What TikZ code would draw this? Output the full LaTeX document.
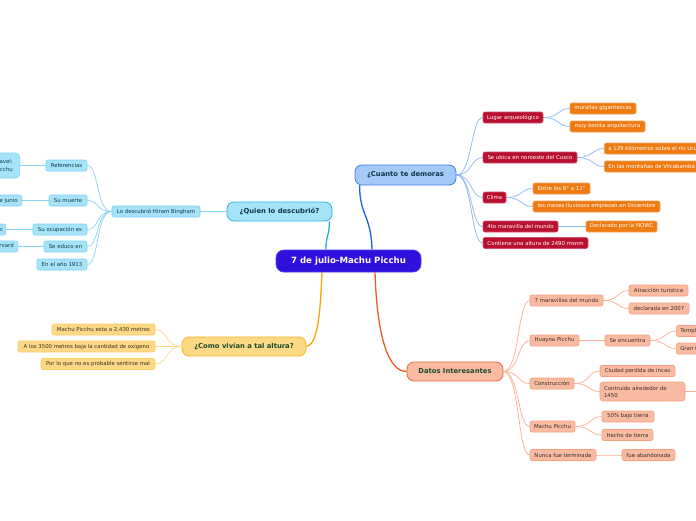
\documentclass[tikz,border=0pt]{standalone}
\usepackage{fontspec}
\setmainfont{DejaVu Sans}
\definecolor{cenF}{HTML}{3010DC}
\definecolor{cenD}{HTML}{5040F0}
\definecolor{cuF}{HTML}{A4CAF8}
\definecolor{cuD}{HTML}{3B7FE3}
\definecolor{quF}{HTML}{A6E3F9}
\definecolor{quD}{HTML}{2FB0EA}
\definecolor{coF}{HTML}{FDD985}
\definecolor{coD}{HTML}{F6B326}
\definecolor{daF}{HTML}{F8BBA2}
\definecolor{daD}{HTML}{EE6633}
\definecolor{topT}{HTML}{10384A}
\definecolor{topG}{HTML}{1C4A30}
\definecolor{rdF}{HTML}{B8102E}
\definecolor{rdD}{HTML}{D0506A}
\definecolor{orF}{HTML}{EE7A12}
\definecolor{orD}{HTML}{F5A050}
\definecolor{qcD}{HTML}{7FD3F4}
\definecolor{ccD}{HTML}{FBCB65}
\definecolor{dcD}{HTML}{F4A080}
\definecolor{txt}{HTML}{3A2E28}
\definecolor{lcu}{HTML}{1E5FD8}
\definecolor{lqu}{HTML}{25A8E6}
\definecolor{lco}{HTML}{F5A70A}
\definecolor{lda}{HTML}{EE5A26}
\definecolor{bcu}{HTML}{8CB6F2}
\definecolor{bqu}{HTML}{86D6F5}
\definecolor{bco}{HTML}{FDD98A}
\definecolor{bda}{HTML}{F9AE92}
\pgfdeclarelayer{bg}
\pgfsetlayers{bg,main}
\tikzset{
  box/.style={rounded corners=2pt, inner sep=0pt, inner xsep=3pt, minimum height=11pt, font=\fontsize{5.4}{6.4}\selectfont, line width=0.6pt},
  topic/.style={rounded corners=7pt, inner sep=0pt, minimum height=19pt, font=\fontsize{6.8}{8}\selectfont\bfseries, line width=0.8pt},
  cuc/.style={box, fill=rdF, draw=rdD, text=white},
  cug/.style={box, fill=orF, draw=orD, text=white},
  quc/.style={box, fill=quF, draw=qcD, text=topT},
  coc/.style={box, fill=coF, draw=ccD, text=txt},
  dac/.style={box, fill=daF, draw=dcD, text=txt},
  conn/.style={line width=0.7pt},
  mainconn/.style={line width=1.3pt}
}
\begin{document}
\begin{tikzpicture}[x=1pt,y=-1pt]
\useasboundingbox (0,0) rectangle (696,520);
\clip (0,0) rectangle (696,520);

% central
\node[rounded corners=8pt, fill=cenF, draw=cenD, line width=0.8pt, text=white, minimum width=145pt, minimum height=22pt, inner sep=0pt, font=\fontsize{8.6}{10}\selectfont\bfseries] (c) at (348.5,261) {7 de julio-Machu Picchu};

% topics
\node[topic, fill=cuF, draw=cuD, text=topT, minimum width=101pt, minimum height=20pt] (cu) at (405.5,175) {¿Cuanto te demoras};
\node[topic, fill=quF, draw=quD, text=topT, minimum width=105pt] (qu) at (279.5,211.5) {¿Quien lo descubrió?};
\node[topic, fill=coF, draw=coD, text=topG, minimum width=124pt] (co) at (244,346.5) {¿Como vivían a tal altura?};
\node[topic, fill=daF, draw=daD, text=topG, minimum width=96pt] (da) at (455,371.5) {Datos Interesantes};

% Cuanto branch
\node[cuc, minimum width=60pt] (c1) at (513,117.5) {Lugar arqueológico};
\node[cuc, minimum width=94pt] (c2) at (530,157.5) {Se ubica en noroeste del Cusco};
\node[cuc, minimum width=23pt] (c3) at (494.5,197.5) {Clima};
\node[cuc, minimum width=75pt] (c4) at (520.5,226.5) {4to maravilla del mundo};
\node[cuc, minimum width=105pt] (c5) at (535.5,243) {Contiene una altura de 2490 msnm};
\node[cug, minimum width=66pt] (c11) at (603,108.5) {murallas gigantescas};
\node[cug, minimum width=75pt] (c12) at (607.5,126.5) {muy bonita arquitectura};
\node[cug, anchor=west, inner xsep=4pt] (c21) at (604,148.5) {a 129 kilómetros sobre el río Urubamba};
\node[cug, anchor=west, inner xsep=4pt] (c22) at (604,166.5) {En las montañas de Vilcabamba};
\node[cug, minimum width=57pt] (c31) at (561.5,188.5) {Entre los 8° a 12°};
\node[cug, minimum width=127pt] (c32) at (596.5,206.5) {los meses lluviosos empiezan en Diciembre};
\node[cug, minimum width=71pt] (c41) at (621.5,226.5) {Declarado por la NOWC};

% Quien branch
\node[quc, minimum width=88pt] (q1) at (156,211.5) {Lo descubrió Hiram Bingham};
\node[quc, minimum width=41pt] (q11) at (66.5,165.5) {Referencias};
\node[quc, minimum width=38pt] (q12) at (68,200.5) {Su muerte};
\node[quc, minimum width=54pt] (q13) at (60,229.5) {Su ocupación es};
\node[quc, minimum width=43pt] (q14) at (65.5,246.5) {Se educo en};
\node[quc, minimum width=50pt] (q15) at (62,264.5) {En el año 1913};
\node[quc, anchor=east, minimum height=25pt, align=right, rounded corners=4pt, inner xsep=7pt] (q111) at (20,165.5) {Nat Geo Travel:\\[1pt]Machu Picchu};
\node[quc, anchor=east, inner xsep=4pt] (q121) at (22,200.5) {Murió el 6 de junio};
\node[quc, anchor=east, inner xsep=2.5pt] (q131) at (6,229.5) {Explorador y académic};
\node[quc, anchor=east, inner xsep=4pt] (q141) at (18,246.5) {Yale y Harvard};

% Como branch
\node[coc, minimum width=103pt] (o1) at (103.5,329.5) {Machu Picchu esta a 2,430 metros};
\node[coc, minimum width=137pt] (o2) at (86.5,346.5) {A los 3500 metros baja la cantidad de oxígeno};
\node[coc, minimum width=114pt] (o3) at (98,364) {Por lo que no es probable sentirse mal};

% Datos branch
\node[dac, minimum width=73pt] (d1) at (566.5,300.5) {7 maravillas del mundo};
\node[dac, minimum width=59pt] (d11) at (658.5,290.5) {Atracción turística};
\node[dac, minimum width=60pt] (d12) at (659,308.5) {declarada en 2007};
\node[dac, minimum width=49pt] (d2) at (554.5,340.5) {Huayna Picchu};
\node[dac, minimum width=45pt] (d21) at (627.5,340.5) {Se encuentra};
\node[dac, anchor=west, inner xsep=4pt] (d211) at (676,331) {Templo de la Luna};
\node[dac, anchor=west, inner xsep=4pt] (d212) at (676,348.5) {Gran Caverna};
\node[dac, minimum width=44pt] (d3) at (552,383.5) {Construcción};
\node[dac, minimum width=75pt] (d31) at (637.5,371) {Ciudad perdida de incas};
\node[dac, text width=77pt, inner xsep=4pt, align=left, minimum height=19pt, rounded corners=3pt, font=\fontsize{5.4}{7}\selectfont] (d32) at (642.5,391.5) {Contruido alrededor de\\1450};
\node[dac, minimum width=45pt] (d4) at (552.5,426.5) {Machu Picchu};
\node[dac, minimum width=52pt] (d41) at (628,416.5) {50\% bajo tierra};
\node[dac, minimum width=51pt] (d42) at (627.5,435) {Hecho de tierra};
\node[dac, minimum width=66pt] (d5) at (563,455) {Nunca fue terminada};
\node[dac, minimum width=53pt] (d51) at (648.5,455) {fue abandonada};
\coordinate (d321) at (712,391.5);

\begin{pgfonlayer}{bg}
\clip (0,0) rectangle (696,520);
\fill[white] (0,0) rectangle (696,520);
% main connectors
\draw[mainconn, lcu] ([xshift=23.5pt]c.north) .. controls +(-1,-35) and +(0,30) .. ([xshift=5pt]cu.south west);
\draw[mainconn, lqu] ([xshift=-22.5pt]c.north) .. controls +(0,-15) and +(0,15) .. ([xshift=-3pt]qu.south east);
\draw[mainconn, lco] ([xshift=-26.5pt]c.south) .. controls +(-2,50) and +(10,-2) .. (co.east);
\draw[mainconn, lda] ([xshift=26.5pt]c.south) .. controls +(2,65) and +(-18,0) .. (da.west);

% right-going branches
\foreach \a/\b in {cu/c1,cu/c2,cu/c3,cu/c4,cu/c5,c1/c11,c1/c12,c2/c21,c2/c22,c3/c31,c3/c32,c4/c41}
  \draw[conn, bcu] (\a.east) .. controls +(16,0) and +(-12,0) .. (\b.west);
\foreach \a/\b in {da/d1,da/d2,da/d3,da/d4,da/d5,d1/d11,d1/d12,d2/d21,d21/d211,d21/d212,d3/d31,d3/d32,d4/d41,d4/d42,d5/d51}
  \draw[conn, bda] (\a.east) .. controls +(16,0) and +(-12,0) .. (\b.west);
\draw[conn, bda] (d32.east) -- (d321);

% left-going branches
\foreach \a/\b in {qu/q1,q1/q11,q1/q12,q1/q13,q1/q14,q1/q15,q11/q111,q12/q121,q13/q131,q14/q141}
  \draw[conn, bqu] (\a.west) .. controls +(-16,0) and +(12,0) .. (\b.east);
\foreach \a/\b in {co/o1,co/o2,co/o3}
  \draw[conn, bco] (\a.west) .. controls +(-16,0) and +(12,0) .. (\b.east);
\end{pgfonlayer}
\end{tikzpicture}
\end{document}
